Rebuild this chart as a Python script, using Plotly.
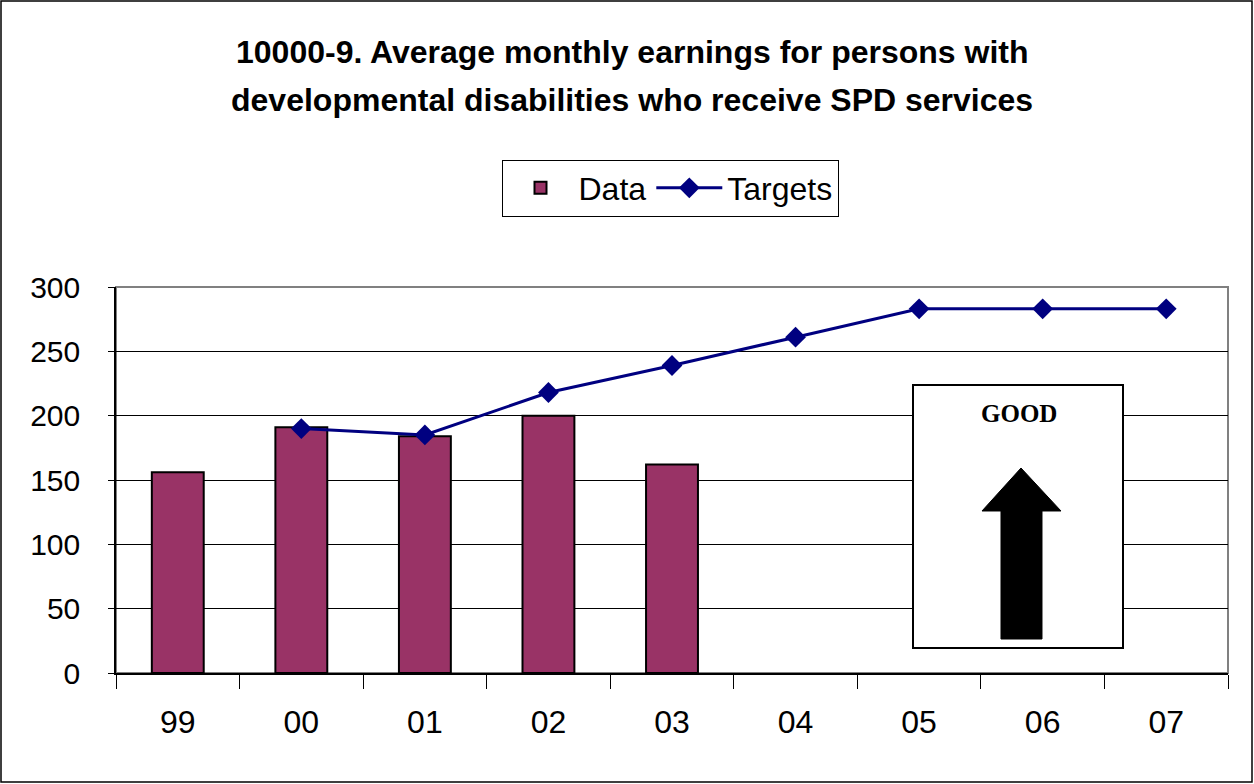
import plotly.graph_objects as go

years = ["99", "00", "01", "02", "03", "04", "05", "06", "07"]
data_values = [156, 191, 184, 200, 162, None, None, None, None]
target_values = [None, 190, 185, 218, 239, 261, 283, 283, 283]
title_lines = [
    "10000-9. Average monthly earnings for persons with",
    "developmental disabilities who receive SPD services",
]

W, H = 1254, 784
L, R, T, B = 116, 1228, 287, 673  # plot area in pixels


def px(x):
    return (x - L) / (R - L)


def py(y):
    return (B - y) / (B - T)


FONT = "Liberation Sans, Arial, sans-serif"

fig = go.Figure()
fig.add_trace(
    go.Bar(
        x=years,
        y=data_values,
        name="Data",
        width=0.42,
        marker=dict(color="#993366", line=dict(color="black", width=2)),
    )
)
fig.add_trace(
    go.Scatter(
        x=years,
        y=target_values,
        name="Targets",
        mode="lines+markers",
        line=dict(color="#000080", width=3),
        marker=dict(symbol="diamond", size=16, color="#000080"),
    )
)

# title, two lines
for i, line in enumerate(title_lines):
    fig.add_annotation(
        text=f"<b>{line}</b>",
        xref="paper", yref="paper",
        x=px(632), y=py(52 + 48 * i),
        xanchor="center", yanchor="middle",
        showarrow=False,
        font=dict(family=FONT, size=32, color="black"),
    )

# GOOD box with arrow
fig.add_shape(
    type="rect", xref="paper", yref="paper",
    x0=px(913), x1=px(1123), y0=py(648), y1=py(385),
    line=dict(color="black", width=2), fillcolor="white", layer="above",
)
fig.add_annotation(
    text="<b>GOOD</b>",
    xref="paper", yref="paper", x=px(1019), y=py(413),
    xanchor="center", yanchor="middle", showarrow=False,
    font=dict(family="Liberation Serif, Times New Roman, serif", size=25, color="black"),
)
arrow = [(1021, 468), (1061, 511), (1042, 511), (1042, 639), (1001, 639), (1001, 511), (982, 511)]
path = "M " + " L ".join(f"{px(x):.5f},{py(y):.5f}" for x, y in arrow) + " Z"
fig.add_shape(type="path", xref="paper", yref="paper", path=path,
              fillcolor="black", line=dict(color="black", width=1), layer="above")

# plot frame (grey top/right) and outer chart border
fig.add_shape(type="rect", xref="paper", yref="paper", x0=0, x1=1, y0=0, y1=1,
              line=dict(color="#808080", width=2), layer="below")
fig.add_shape(type="rect", xref="paper", yref="paper",
              x0=px(1), x1=px(1252), y0=py(782), y1=py(1),
              line=dict(color="black", width=1.5))

fig.update_layout(
    width=W, height=H,
    margin=dict(l=L, r=W - R, t=T, b=H - B),
    plot_bgcolor="white", paper_bgcolor="white",
    font=dict(family=FONT, color="black"),
    showlegend=True,
    legend=dict(
        orientation="h",
        x=px(670), y=py(188), xanchor="center", yanchor="middle",
        bordercolor="black", borderwidth=1,
        font=dict(family=FONT, size=32, color="black"),
        itemwidth=66,
        traceorder="normal",
    ),
    bargap=0.58,
)
fig.update_xaxes(
    type="category",
    range=[-0.5, len(years) - 0.5],
    showline=True, linecolor="black", linewidth=2,
    ticks="outside", ticklen=14, tickcolor="black", tickwidth=1,
    tickson="boundaries",
    ticklabelstandoff=20,
    tickfont=dict(family=FONT, size=32, color="black"),
    showgrid=False,
)
fig.update_yaxes(
    range=[0, 300], dtick=50,
    showline=True, linecolor="black", linewidth=1.5,
    ticks="outside", ticklen=6, tickcolor="black",
    ticklabelstandoff=22,
    tickfont=dict(family=FONT, size=30, color="black"),
    showgrid=True, gridcolor="black", gridwidth=1,
    zeroline=False,
)

fig.write_html(
    "out.html",
    config={"displayModeBar": False},
    post_script="document.body.style.margin='0';document.body.style.overflow='hidden';",
)
